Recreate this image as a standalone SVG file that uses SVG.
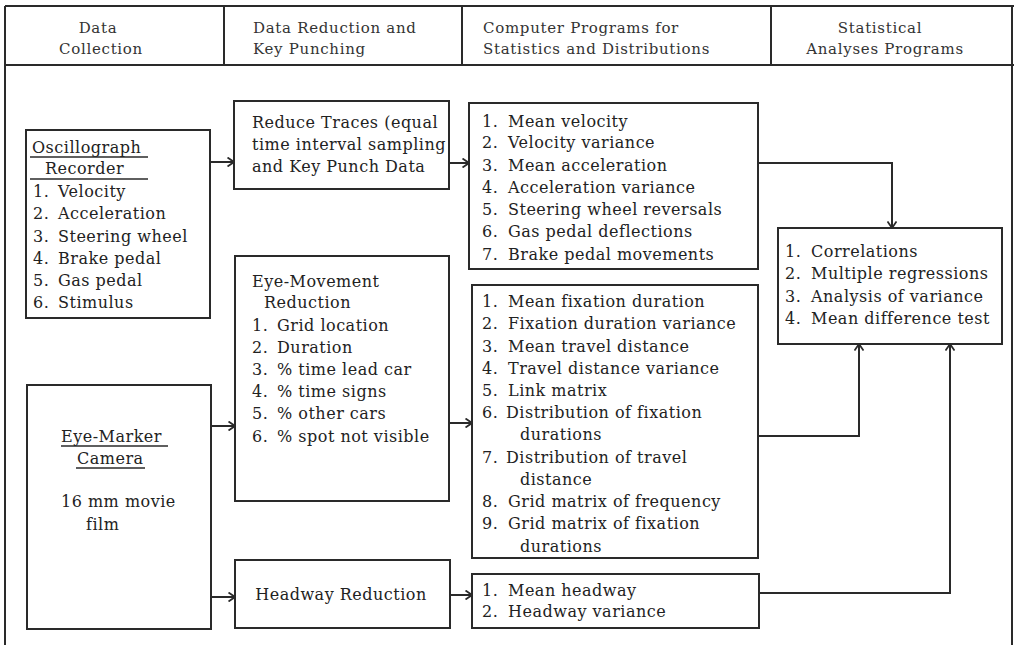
<svg xmlns="http://www.w3.org/2000/svg" width="1014" height="645" viewBox="0 0 1014 645">
<defs>
<style>
.frame{fill:none;stroke:#2a2a2a;stroke-width:2}
.box{fill:#fff;stroke:#2a2a2a;stroke-width:2}
.hd{font-family:"DejaVu Serif","Liberation Serif",serif;font-size:15px;letter-spacing:0.7px;fill:#333}
.t{font-family:"DejaVu Serif","Liberation Serif",serif;font-size:16px;letter-spacing:0.5px;fill:#222}
.ul{stroke:#2a2a2a;stroke-width:1.6}
.c{fill:none;stroke:#2a2a2a;stroke-width:2}
</style>
<marker id="ah" viewBox="0 0 8 10" refX="7.5" refY="5" markerWidth="8" markerHeight="10" markerUnits="userSpaceOnUse" orient="auto">
<path d="M1,0.5 L7.5,5 L1,9.5" fill="none" stroke="#2a2a2a" stroke-width="1.8"/>
</marker>
</defs>
<rect width="1014" height="645" fill="#fff"/>
<g id="frame">
<line class="frame" x1="5" y1="6" x2="1014" y2="6"/>
<line class="frame" x1="5" y1="65" x2="1014" y2="65"/>
<line class="frame" x1="5" y1="6" x2="5" y2="645"/>
<line class="frame" x1="1012" y1="6" x2="1012" y2="645"/>
<line class="frame" x1="224" y1="6" x2="224" y2="65"/>
<line class="frame" x1="462" y1="6" x2="462" y2="65"/>
<line class="frame" x1="771" y1="6" x2="771" y2="65"/>
</g>
<g id="header">
<text class="hd" x="98" y="33" text-anchor="middle">Data</text>
<text class="hd" x="101" y="54" text-anchor="middle">Collection</text>
<text class="hd" x="253" y="33">Data Reduction and</text>
<text class="hd" x="253" y="54">Key Punching</text>
<text class="hd" x="483" y="33">Computer Programs for</text>
<text class="hd" x="483" y="54">Statistics and Distributions</text>
<text class="hd" x="880" y="33" text-anchor="middle">Statistical</text>
<text class="hd" x="885" y="54" text-anchor="middle">Analyses Programs</text>
</g>
<g id="oscillograph">
<rect class="box" x="26" y="130" width="184" height="188"/>
<text class="t" x="32" y="153">Oscillograph</text>
<line class="ul" x1="30" y1="157" x2="148" y2="157"/>
<text class="t" x="45" y="174">Recorder</text>
<line class="ul" x1="30" y1="179" x2="148" y2="179"/>
<text class="t" x="33" y="197">1.<tspan x="58">Velocity</tspan></text>
<text class="t" x="33" y="219">2.<tspan x="58">Acceleration</tspan></text>
<text class="t" x="33" y="242">3.<tspan x="58">Steering wheel</tspan></text>
<text class="t" x="33" y="264">4.<tspan x="58">Brake pedal</tspan></text>
<text class="t" x="33" y="286">5.<tspan x="58">Gas pedal</tspan></text>
<text class="t" x="33" y="308">6.<tspan x="58">Stimulus</tspan></text>
</g>
<g id="eyemarker">
<rect class="box" x="27" y="385" width="184" height="244"/>
<text class="t" x="61" y="442">Eye-Marker</text>
<line class="ul" x1="61" y1="446" x2="168" y2="446"/>
<text class="t" x="77" y="464">Camera</text>
<line class="ul" x1="76" y1="468" x2="145" y2="468"/>
<text class="t" x="61" y="507">16 mm movie</text>
<text class="t" x="86" y="530">film</text>
</g>
<g id="reducetraces">
<rect class="box" x="234" y="101" width="215" height="88"/>
<text class="t" x="252" y="128">Reduce Traces (equal</text>
<text class="t" x="252" y="150">time interval sampling</text>
<text class="t" x="252" y="172">and Key Punch Data</text>
</g>
<g id="eyemovement">
<rect class="box" x="235" y="256" width="214" height="245"/>
<text class="t" x="252" y="287">Eye-Movement</text>
<text class="t" x="264" y="308">Reduction</text>
<text class="t" x="252" y="331">1.<tspan x="277">Grid location</tspan></text>
<text class="t" x="252" y="353">2.<tspan x="277">Duration</tspan></text>
<text class="t" x="252" y="375">3.<tspan x="277">% time lead car</tspan></text>
<text class="t" x="252" y="397">4.<tspan x="277">% time signs</tspan></text>
<text class="t" x="252" y="419">5.<tspan x="277">% other cars</tspan></text>
<text class="t" x="252" y="442">6.<tspan x="277">% spot not visible</tspan></text>
</g>
<g id="headway">
<rect class="box" x="235" y="560" width="215" height="68"/>
<text class="t" x="341" y="600" text-anchor="middle">Headway Reduction</text>
</g>
<g id="stats1">
<rect class="box" x="469" y="103" width="289" height="166"/>
<text class="t" x="482" y="127">1.<tspan x="508">Mean velocity</tspan></text>
<text class="t" x="482" y="148">2.<tspan x="508">Velocity variance</tspan></text>
<text class="t" x="482" y="171">3.<tspan x="508">Mean acceleration</tspan></text>
<text class="t" x="482" y="193">4.<tspan x="508">Acceleration variance</tspan></text>
<text class="t" x="482" y="215">5.<tspan x="508">Steering wheel reversals</tspan></text>
<text class="t" x="482" y="237">6.<tspan x="508">Gas pedal deflections</tspan></text>
<text class="t" x="482" y="260">7.<tspan x="508">Brake pedal movements</tspan></text>
</g>
<g id="stats2">
<rect class="box" x="472" y="285" width="286" height="273"/>
<text class="t" x="482" y="307">1.<tspan x="508">Mean fixation duration</tspan></text>
<text class="t" x="482" y="329">2.<tspan x="508">Fixation duration variance</tspan></text>
<text class="t" x="482" y="352">3.<tspan x="508">Mean travel distance</tspan></text>
<text class="t" x="482" y="374">4.<tspan x="508">Travel distance variance</tspan></text>
<text class="t" x="482" y="396">5.<tspan x="508">Link matrix</tspan></text>
<text class="t" x="482" y="418">6.<tspan x="506">Distribution of fixation</tspan></text>
<text class="t" x="520" y="440">durations</text>
<text class="t" x="482" y="463">7.<tspan x="506">Distribution of travel</tspan></text>
<text class="t" x="520" y="485">distance</text>
<text class="t" x="482" y="507">8.<tspan x="508">Grid matrix of frequency</tspan></text>
<text class="t" x="482" y="529">9.<tspan x="508">Grid matrix of fixation</tspan></text>
<text class="t" x="520" y="552">durations</text>
</g>
<g id="stats3">
<rect class="box" x="472" y="574" width="287" height="54"/>
<text class="t" x="482" y="596">1.<tspan x="508">Mean headway</tspan></text>
<text class="t" x="482" y="617">2.<tspan x="508">Headway variance</tspan></text>
</g>
<g id="analyses">
<rect class="box" x="778" y="228" width="224" height="116"/>
<text class="t" x="785" y="257">1.<tspan x="811">Correlations</tspan></text>
<text class="t" x="785" y="279">2.<tspan x="811">Multiple regressions</tspan></text>
<text class="t" x="785" y="302">3.<tspan x="811">Analysis of variance</tspan></text>
<text class="t" x="785" y="324">4.<tspan x="811">Mean difference test</tspan></text>
</g>
<g id="connectors">
<path class="c" d="M210,162 H234" marker-end="url(#ah)"/>
<path class="c" d="M211,426 H235" marker-end="url(#ah)"/>
<path class="c" d="M211,597 H235" marker-end="url(#ah)"/>
<path class="c" d="M449,163 H469" marker-end="url(#ah)"/>
<path class="c" d="M449,423 H472" marker-end="url(#ah)"/>
<path class="c" d="M450,595 H472" marker-end="url(#ah)"/>
<path class="c" d="M758,163 H892 V228" marker-end="url(#ah)"/>
<path class="c" d="M758,436 H859 V344" marker-end="url(#ah)"/>
<path class="c" d="M759,593 H950 V344" marker-end="url(#ah)"/>
</g>
</svg>
